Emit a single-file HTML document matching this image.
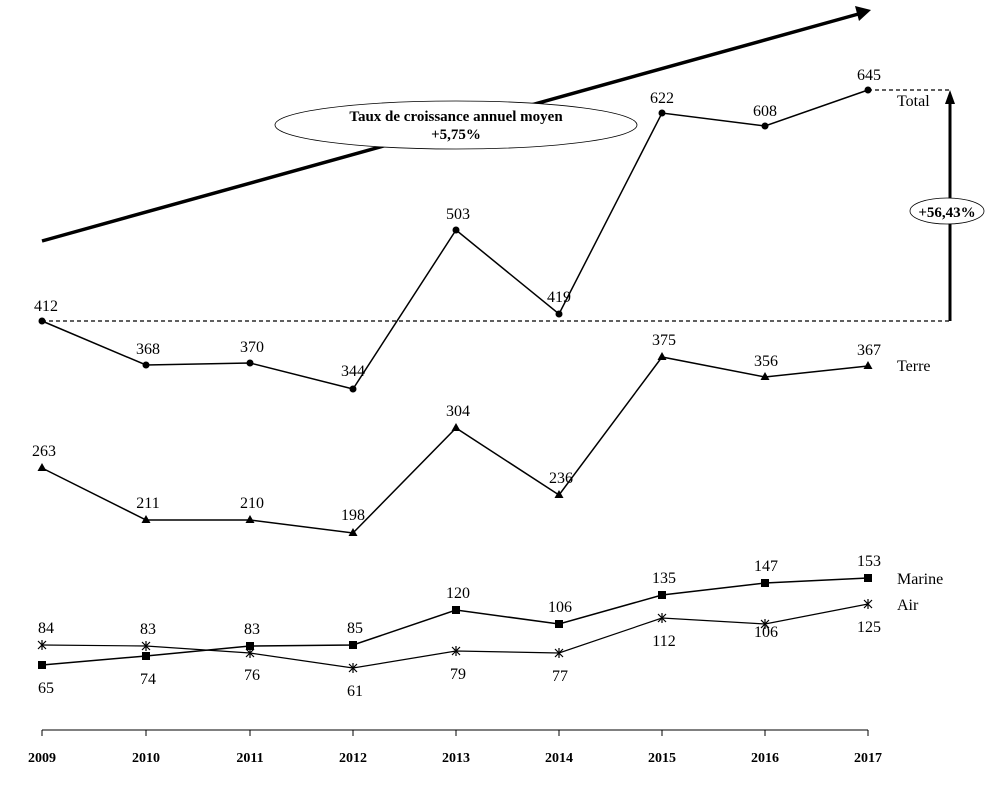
<!DOCTYPE html>
<html><head><style>body{margin:0;background:#fff}svg{display:block}text{font-family:"Liberation Serif",serif;font-size:16px;fill:#000}</style></head>
<body>
<svg width="994" height="794" viewBox="0 0 994 794" xmlns="http://www.w3.org/2000/svg">
<!-- big arrow -->
<line x1="42" y1="241" x2="862" y2="13" stroke="#000" stroke-width="3.5"/>
<path d="M855,6 L871,10 L859,21 Z" fill="#000"/>
<ellipse cx="456" cy="125" rx="181" ry="24" fill="#fff" stroke="#000" stroke-width="0.8"/>
<text x="456" y="121" text-anchor="middle" font-weight="bold" style="font-size:15px">Taux de croissance annuel moyen</text>
<text x="456" y="139" text-anchor="middle" font-weight="bold" style="font-size:15px">+5,75%</text>
<!-- dashed -->
<line x1="42" y1="321" x2="950" y2="321" stroke="#000" stroke-width="1.3" stroke-dasharray="4,3"/>
<line x1="868" y1="90" x2="952" y2="90" stroke="#000" stroke-width="1.3" stroke-dasharray="4,3"/>
<!-- vertical arrow -->
<line x1="950" y1="321" x2="950" y2="102" stroke="#000" stroke-width="3"/>
<path d="M945,104 L950,90 L955,104 Z" fill="#000"/>
<ellipse cx="947" cy="211" rx="37" ry="13" fill="#fff" stroke="#000" stroke-width="0.8"/>
<text x="947" y="217" text-anchor="middle" font-weight="bold" style="font-size:15px">+56,43%</text>
<!-- Total -->
<polyline points="42,321 146,365 250,363 353,389 456,230 559,314 662,113 765,126 868,90" fill="none" stroke="#000" stroke-width="1.5"/>
<g fill="#000"><circle cx="42" cy="321" r="3.5"/><circle cx="146" cy="365" r="3.5"/><circle cx="250" cy="363" r="3.5"/><circle cx="353" cy="389" r="3.5"/><circle cx="456" cy="230" r="3.5"/><circle cx="559" cy="314" r="3.5"/><circle cx="662" cy="113" r="3.5"/><circle cx="765" cy="126" r="3.5"/><circle cx="868" cy="90" r="3.5"/></g>
<g text-anchor="middle"><text x="46" y="311">412</text><text x="148" y="354">368</text><text x="252" y="352">370</text><text x="353" y="376">344</text><text x="458" y="219">503</text><text x="559" y="302">419</text><text x="662" y="103">622</text><text x="765" y="116">608</text><text x="869" y="80">645</text></g>
<text x="897" y="106">Total</text>
<!-- Terre -->
<polyline points="42,468 146,520 250,520 353,533 456,428 559,495 662,357 765,377 868,366" fill="none" stroke="#000" stroke-width="1.5"/>
<g fill="#000"><path d="M42,463 l4.5,8 h-9z"/><path d="M146,515 l4.5,8 h-9z"/><path d="M250,515 l4.5,8 h-9z"/><path d="M353,528 l4.5,8 h-9z"/><path d="M456,423 l4.5,8 h-9z"/><path d="M559,490 l4.5,8 h-9z"/><path d="M662,352 l4.5,8 h-9z"/><path d="M765,372 l4.5,8 h-9z"/><path d="M868,361 l4.5,8 h-9z"/></g>
<g text-anchor="middle"><text x="44" y="456">263</text><text x="148" y="508">211</text><text x="252" y="508">210</text><text x="353" y="520">198</text><text x="458" y="416">304</text><text x="561" y="483">236</text><text x="664" y="345">375</text><text x="766" y="366">356</text><text x="869" y="355">367</text></g>
<text x="897" y="371">Terre</text>
<!-- Marine -->
<polyline points="42,665 146,656 250,646 353,645 456,610 559,624 662,595 765,583 868,578" fill="none" stroke="#000" stroke-width="1.5"/>
<g fill="#000"><rect x="38" y="661" width="8" height="8"/><rect x="142" y="652" width="8" height="8"/><rect x="246" y="642" width="8" height="8"/><rect x="349" y="641" width="8" height="8"/><rect x="452" y="606" width="8" height="8"/><rect x="555" y="620" width="8" height="8"/><rect x="658" y="591" width="8" height="8"/><rect x="761" y="579" width="8" height="8"/><rect x="864" y="574" width="8" height="8"/></g>
<!-- Air -->
<polyline points="42,645 146,646 250,653 353,668 456,651 559,653 662,618 765,624 868,604" fill="none" stroke="#000" stroke-width="1.2"/>
<g stroke="#000" stroke-width="1.2">
<path d="M38,641l8,8M46,641l-8,8M42,640v10"/><path d="M142,642l8,8M150,642l-8,8M146,641v10"/><path d="M246,649l8,8M254,649l-8,8M250,648v10"/><path d="M349,664l8,8M357,664l-8,8M353,663v10"/><path d="M452,647l8,8M460,647l-8,8M456,646v10"/><path d="M555,649l8,8M563,649l-8,8M559,648v10"/><path d="M658,614l8,8M666,614l-8,8M662,613v10"/><path d="M761,620l8,8M769,620l-8,8M765,619v10"/><path d="M864,600l8,8M872,600l-8,8M868,599v10"/></g>
<g text-anchor="middle">
<text x="46" y="633">84</text><text x="148" y="634">83</text><text x="252" y="634">83</text><text x="355" y="633">85</text><text x="458" y="598">120</text><text x="560" y="612">106</text><text x="664" y="583">135</text><text x="766" y="571">147</text><text x="869" y="566">153</text>
<text x="46" y="693">65</text><text x="148" y="684">74</text><text x="252" y="680">76</text><text x="355" y="696">61</text><text x="458" y="679">79</text><text x="560" y="681">77</text><text x="664" y="646">112</text><text x="766" y="637">106</text><text x="869" y="632">125</text></g>
<text x="897" y="584">Marine</text>
<text x="897" y="610">Air</text>
<!-- axis -->
<line x1="42" y1="730" x2="868" y2="730" stroke="#000" stroke-width="1"/>
<g stroke="#000"><line x1="42" y1="730" x2="42" y2="736"/><line x1="146" y1="730" x2="146" y2="736"/><line x1="250" y1="730" x2="250" y2="736"/><line x1="353" y1="730" x2="353" y2="736"/><line x1="456" y1="730" x2="456" y2="736"/><line x1="559" y1="730" x2="559" y2="736"/><line x1="662" y1="730" x2="662" y2="736"/><line x1="765" y1="730" x2="765" y2="736"/><line x1="868" y1="730" x2="868" y2="736"/></g>
<g text-anchor="middle" font-weight="bold"><text x="42" y="762" style="font-size:14px">2009</text><text x="146" y="762" style="font-size:14px">2010</text><text x="250" y="762" style="font-size:14px">2011</text><text x="353" y="762" style="font-size:14px">2012</text><text x="456" y="762" style="font-size:14px">2013</text><text x="559" y="762" style="font-size:14px">2014</text><text x="662" y="762" style="font-size:14px">2015</text><text x="765" y="762" style="font-size:14px">2016</text><text x="868" y="762" style="font-size:14px">2017</text></g>
</svg>
</body></html>
